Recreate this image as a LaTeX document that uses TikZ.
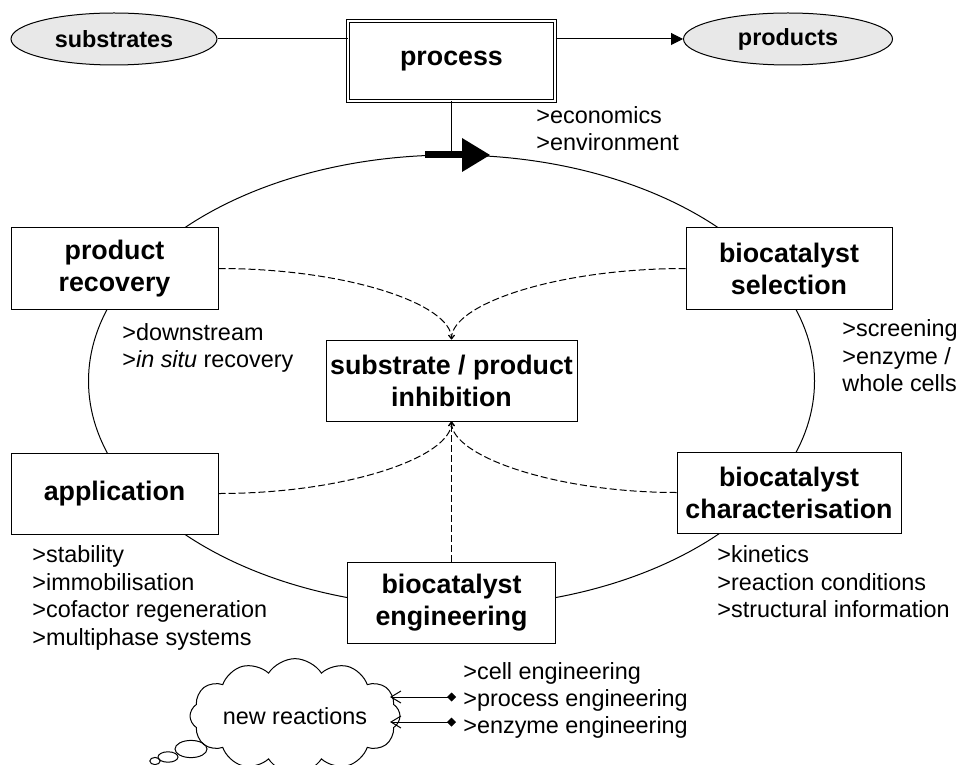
\documentclass[tikz,border=0pt]{standalone}
\usepackage{fontspec}
\setmainfont{Liberation Sans}
\usetikzlibrary{arrows.meta,positioning,shapes.geometric,shapes.symbols}
\newcommand{\boxfont}{\fontsize{13.4}{16}\selectfont\bfseries}
\newcommand{\ovalfont}{\fontsize{11.7}{13.5}\selectfont\bfseries}
\newcommand{\notefont}{\fontsize{11.7}{13.7}\selectfont}

\begin{document}
\begin{tikzpicture}[
    x=0.5pt,y=-0.5pt,
    blk/.style={draw,fill=white,font=\boxfont,align=center,inner sep=0pt,minimum height=40.5pt,line width=0.5pt},
    oval/.style={ellipse,draw,fill=black!9,font=\ovalfont,inner sep=0pt,minimum height=26pt,line width=0.5pt},
    note/.style={font=\notefont,align=left,inner sep=0pt,anchor=west},
    link/.style={dash pattern=on 3.5pt off 1.5pt,line width=0.5pt,-{Straight Barb[length=1.8pt,width=3pt]}},
    >=Triangle,
  ]
  \useasboundingbox (0,0) rectangle (961,764);
  % Cycle round the central box
  \draw[line width=0.5pt] (451.5,381) ellipse [x radius=181.5pt,y radius=113pt];
  % Top row
  \node[oval,minimum width=103pt] (subst) at (114,39) {substrates};
  \node[oval,minimum width=104.5pt] (prod) at (788,39) {products};
  \node[blk,minimum width=103.5pt,minimum height=40pt,double,double distance=1pt] (proc) at (451.5,61) {process};
  \draw[line width=0.5pt] (subst.east) -- (subst.east -| proc.west);
  \draw[line width=0.5pt,-{Triangle[length=6pt,width=6pt]}] (proc.east |- prod.west) -- (prod.west);
  % Thick arrow on top of the cycle
  \coordinate (arrTail) at (425,155);
  \coordinate (arrTip) at (490,155);
  \draw[line width=0.5pt] (proc.south) -- (proc.south |- arrTail);
  \draw[line width=3.5pt,-{Triangle[length=14pt,width=17pt,line width=0pt]}] (arrTail) -- (arrTip);
  % Stages of the cycle
  \node[blk,minimum width=103.5pt] (recov) at (114.5,268.5) {product\\recovery};
  \node[blk,minimum width=103pt] (select) at (789,268.5) {biocatalyst\\selection};
  \node[blk,minimum width=103.5pt] (appl) at (114.5,493.5) {application};
  \node[blk,minimum width=112pt] (charac) at (789,492.5) {biocatalyst\\characterisation};
  \node[blk,minimum width=104pt] (engin) at (451.5,602.5) {biocatalyst\\engineering};
  \node[blk,minimum width=125.5pt] (inhib) at (451.5,380.5) {substrate / product\\inhibition};
  % Dashed links to the inhibition box
  \draw[link] (recov.east) .. controls +(130,0) and +(0,-35) .. (inhib.north);
  \draw[link] (select.west) .. controls +(-130,0) and +(0,-35) .. (inhib.north);
  \draw[link] (appl.east) .. controls +(130,0) and +(0,35) .. (inhib.south);
  \draw[link] (charac.west) .. controls +(-120,0) and +(0,35) .. (inhib.south);
  \draw[link] (engin.north) -- (inhib.south);
  % Notes
  \node[note] (econ) at (536,128.5) {>economics\\>environment};
  \node[note] (down) at (122,348) {>downstream\\>\textit{in situ} recovery};
  \node[note] (screen) at (842,356) {>screening\\>enzyme /\\whole cells};
  \node[note] (stab) at (32,598) {>stability\\>immobilisation\\>cofactor regeneration\\>multiphase systems};
  \node[note] (kin) at (717,582) {>kinetics\\>reaction conditions\\>structural information};
  \node[note] (cellEng) at (463,673) {>cell engineering};
  \node[note] (procEng) at (463,700) {>process engineering};
  \node[note] (enzEng) at (463,727) {>enzyme engineering};
  % Thought cloud
  \node[cloud,draw,fill=white,cloud puffs=12,cloud puff arc=115,aspect=2.3,
        minimum width=105pt,minimum height=45pt,inner sep=0pt,font=\notefont,line width=0.5pt] (newReact) at (295,716) {new reactions};
  \draw[line width=0.5pt] (191,749) ellipse [x radius=8pt,y radius=4.3pt];
  \draw[line width=0.5pt] (168,757) ellipse [x radius=5pt,y radius=2.6pt];
  \draw[line width=0.5pt] (155,761) ellipse [x radius=2.6pt,y radius=1.8pt];
  \coordinate (cloudEdge) at (390,700);
  \draw[line width=0.5pt,{Diamond[length=4.5pt,width=4.5pt]}-{Straight Barb[length=5pt,width=6pt]}]
    ([xshift=-3.5pt,yshift=1.5pt]procEng.west) -- ([yshift=1.5pt]procEng.west -| cloudEdge);
  \draw[line width=0.5pt,{Diamond[length=4.5pt,width=4.5pt]}-{Straight Barb[length=5pt,width=6pt]}]
    ([xshift=-3.5pt,yshift=2.5pt]enzEng.west) -- ([yshift=2.5pt]enzEng.west -| cloudEdge);
\end{tikzpicture}
\end{document}
